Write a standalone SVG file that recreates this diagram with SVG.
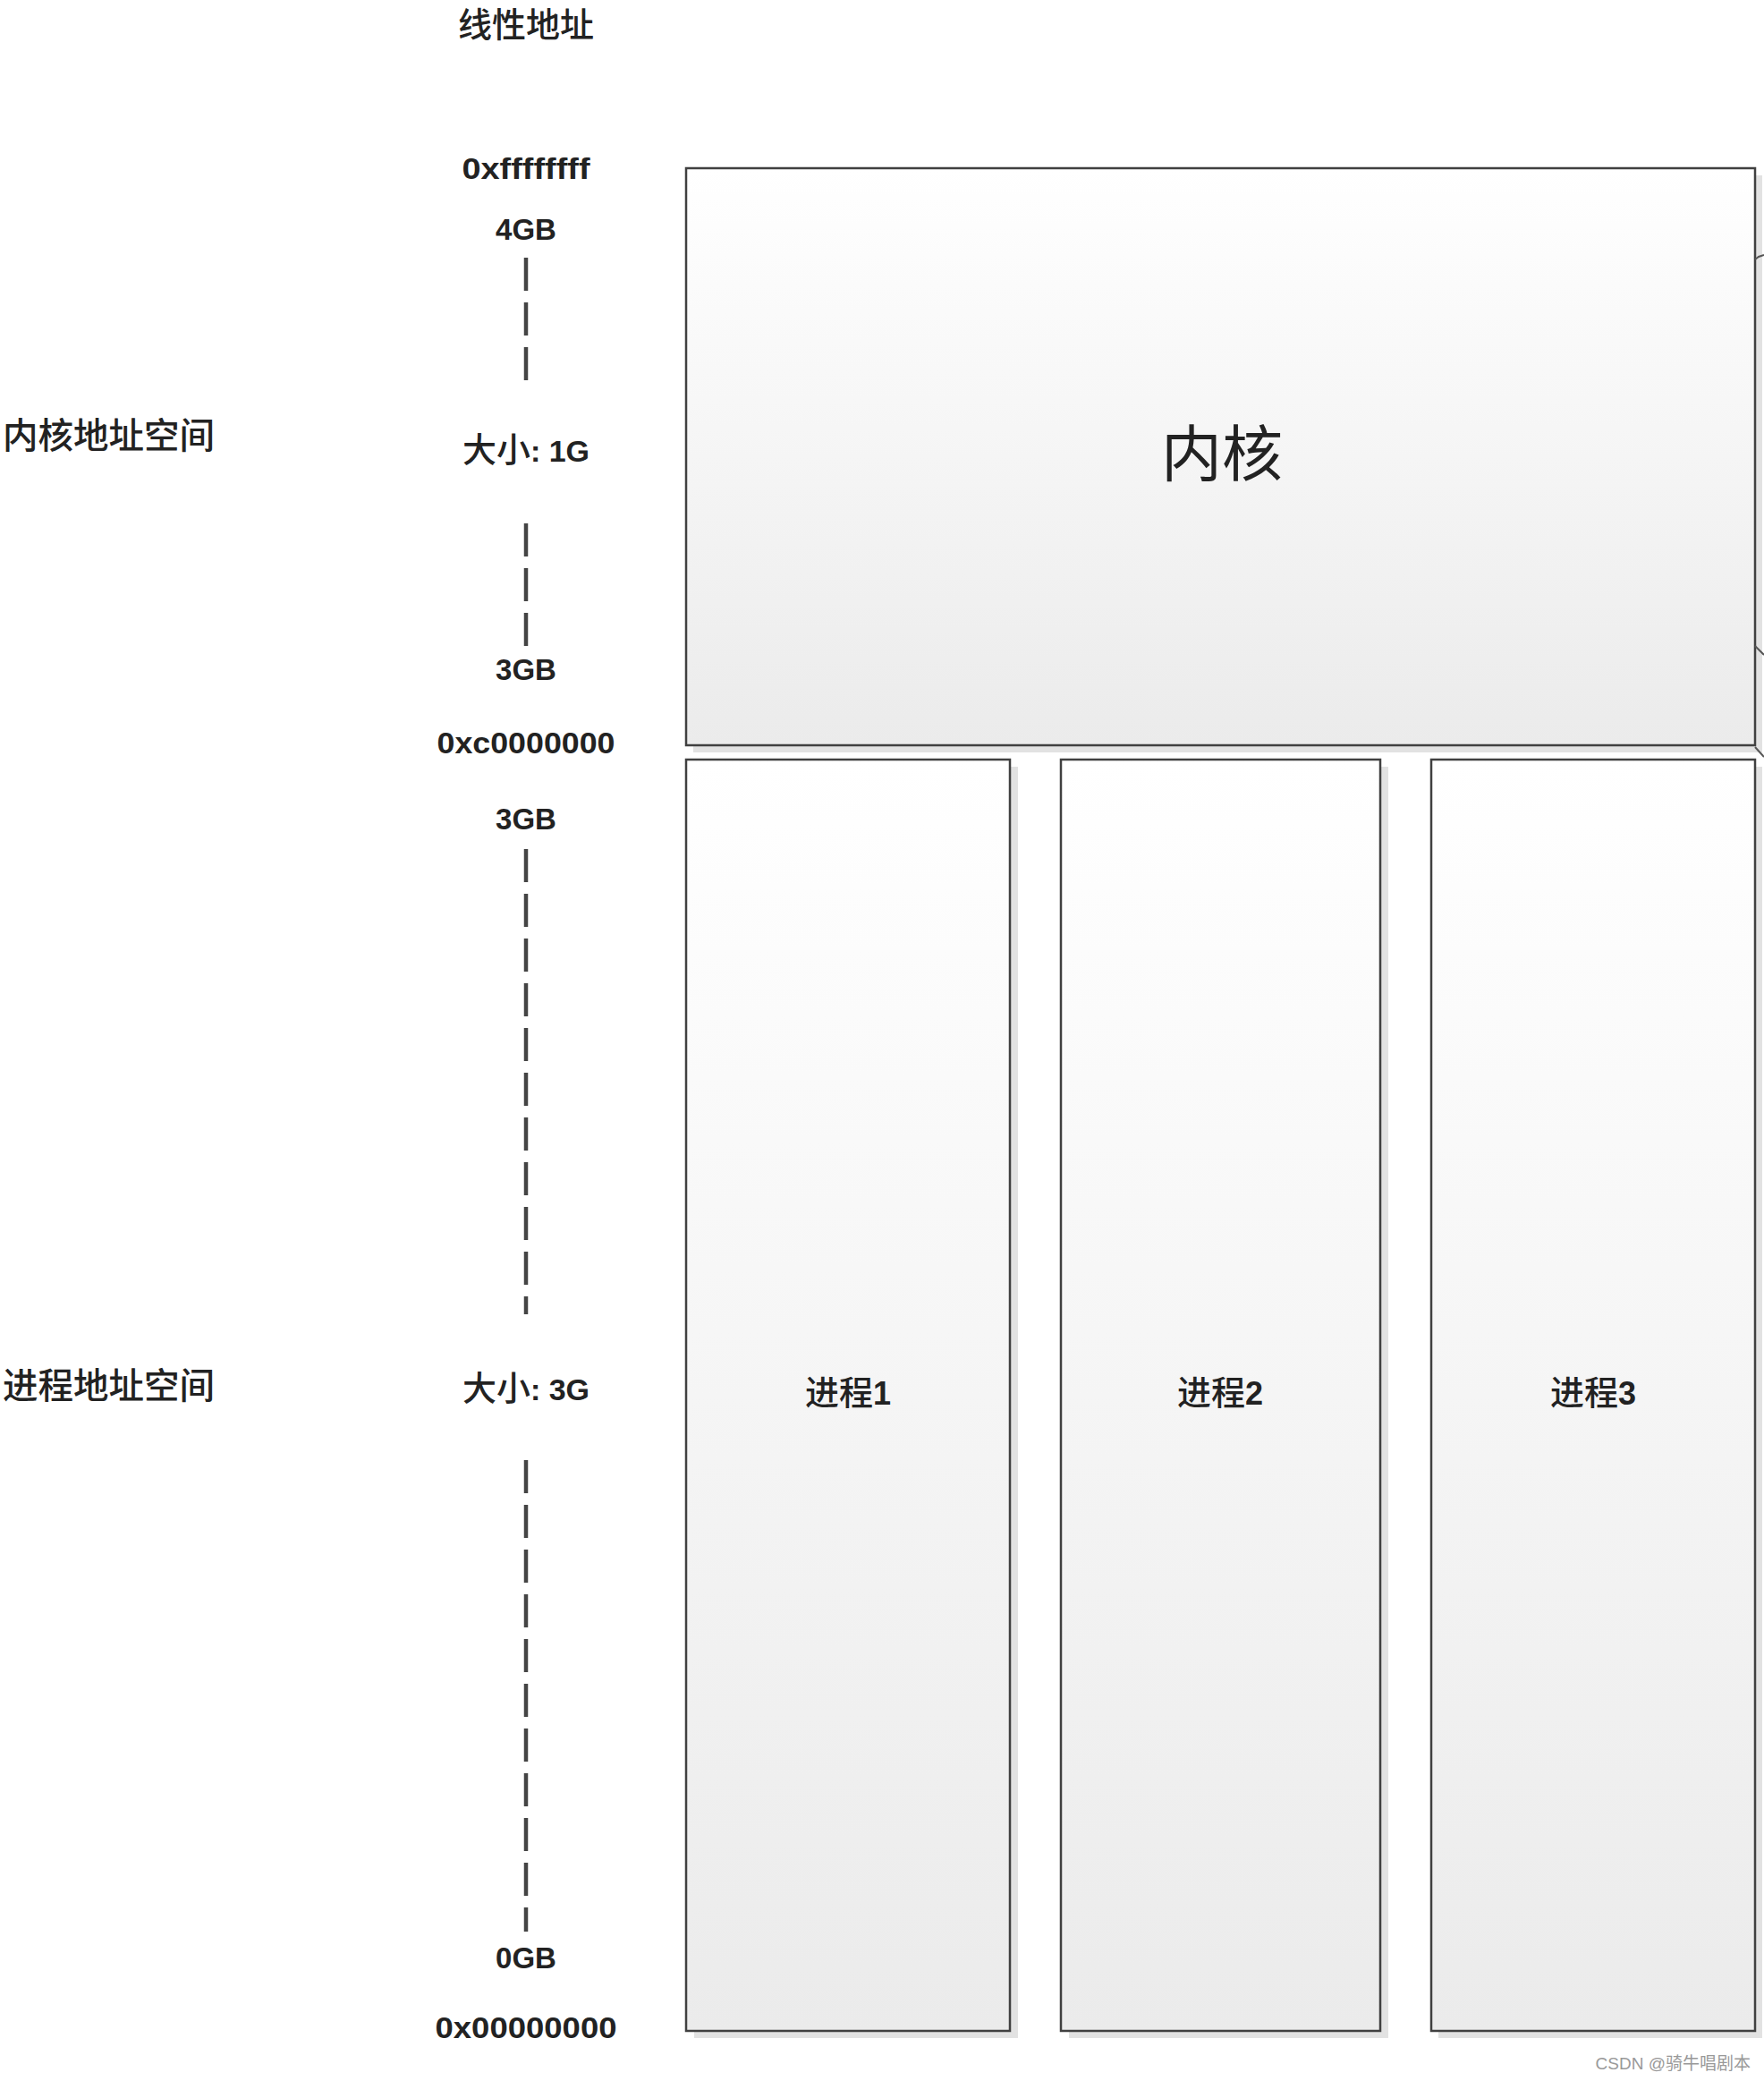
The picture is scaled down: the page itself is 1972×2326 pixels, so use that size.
<svg xmlns="http://www.w3.org/2000/svg" width="1972" height="2326" viewBox="0 0 1972 2326">
<style>
.t{font-family:"Liberation Sans","Noto Sans CJK SC",sans-serif;fill:#222;text-anchor:middle}
.num{font-weight:bold;font-size:33px}
.cjk{font-family:"Noto Sans CJK SC","Liberation Sans",sans-serif;font-size:38px;font-weight:500;fill:#222}
.region{font-size:39.5px}
.big{font-size:68px;font-weight:normal}
.b{font-family:"Liberation Sans",sans-serif;font-weight:bold;font-size:34px}
.box{stroke:#404040;stroke-width:2.5;fill:url(#g)}
.shadow{fill:#e2e2e2}
.dash{stroke:#444;stroke-width:4.5;stroke-dasharray:37 13;fill:none}
.stub{stroke:#555;stroke-width:2;fill:none}
.wm{font-family:"Liberation Sans","Noto Sans CJK SC",sans-serif;font-size:19px;fill:#999;text-anchor:end}
</style>
<defs>
<linearGradient id="g" x1="0" y1="0" x2="0" y2="1">
<stop offset="0" stop-color="#ffffff"/>
<stop offset="1" stop-color="#ebebeb"/>
</linearGradient>
</defs>
<rect width="1972" height="2326" fill="#ffffff"/>

<g id="axis-labels">
<text class="cjk" x="588" y="41" text-anchor="middle">线性地址</text>
<text class="t num" x="588" y="200" textLength="143" lengthAdjust="spacingAndGlyphs">0xffffffff</text>
<text class="t num" x="588" y="268">4GB</text>
<text class="t" x="588" y="516"><tspan class="cjk">大小</tspan><tspan class="b">: 1G</tspan></text>
<text class="t num" x="588" y="760">3GB</text>
<text class="t num" x="588" y="842" textLength="199" lengthAdjust="spacingAndGlyphs">0xc0000000</text>
<text class="t num" x="588" y="927">3GB</text>
<text class="t" x="588" y="1565"><tspan class="cjk">大小</tspan><tspan class="b">: 3G</tspan></text>
<text class="t num" x="588" y="2200">0GB</text>
<text class="t num" x="588" y="2278" textLength="203" lengthAdjust="spacingAndGlyphs">0x00000000</text>
</g>

<g id="region-labels">
<text class="cjk region" x="3" y="501">内核地址空间</text>
<text class="cjk region" x="3" y="1563">进程地址空间</text>
</g>

<g id="kernel">
<rect class="shadow" x="775" y="196" width="1195" height="645"/>
<rect class="box" x="767" y="188" width="1195" height="645"/>
<text class="cjk big" x="1366" y="532" text-anchor="middle">内核</text>
</g>

<g id="process1">
<rect class="shadow" x="776" y="857" width="362" height="1421"/>
<rect class="box" x="767" y="849" width="362" height="1421"/>
<text class="t" x="948" y="1570"><tspan class="cjk">进程</tspan><tspan class="b" style="font-size:36px">1</tspan></text>
</g>

<g id="process2">
<rect class="shadow" x="1195" y="857" width="357" height="1421"/>
<rect class="box" x="1186" y="849" width="357" height="1421"/>
<text class="t" x="1364" y="1570"><tspan class="cjk">进程</tspan><tspan class="b" style="font-size:36px">2</tspan></text>
</g>

<g id="process3">
<rect class="shadow" x="1608" y="857" width="362" height="1421"/>
<rect class="box" x="1600" y="849" width="362" height="1421"/>
<text class="t" x="1781" y="1570"><tspan class="cjk">进程</tspan><tspan class="b" style="font-size:36px">3</tspan></text>
</g>

<g id="connectors">
<line class="dash" x1="588" y1="288" x2="588" y2="425"/>
<line class="dash" x1="588" y1="585" x2="588" y2="722"/>
<line class="dash" x1="588" y1="949" x2="588" y2="1469"/>
<line class="dash" x1="588" y1="1632" x2="588" y2="2159"/>
<path class="stub" d="M1962 290 L1966 287 L1972 285"/>
<path class="stub" d="M1962 722 L1972 732"/>
<path class="stub" d="M1962 835 L1972 846"/>
</g>

<text class="wm" x="1957" y="2313">CSDN @骑牛唱剧本</text>
</svg>
